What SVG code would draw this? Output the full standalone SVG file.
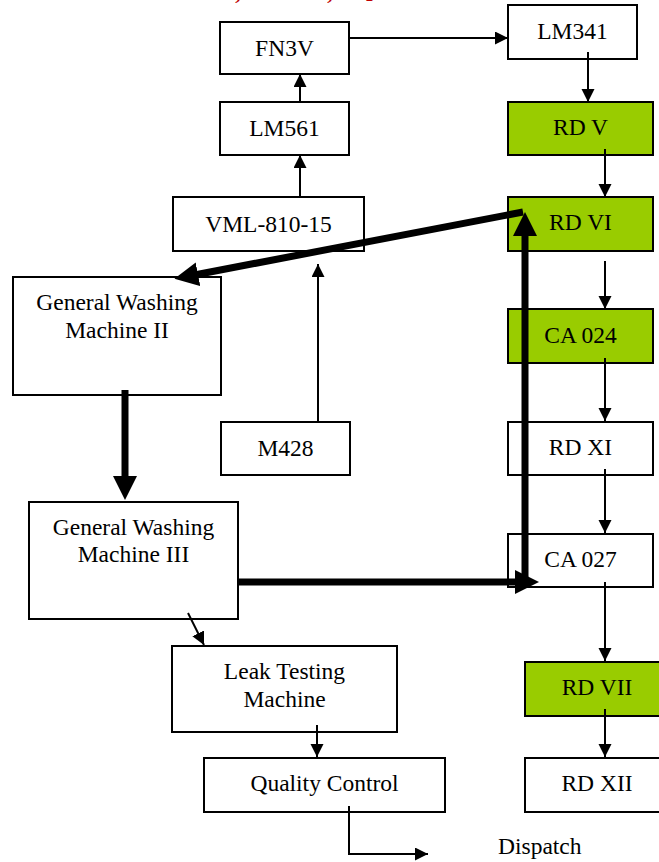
<svg xmlns="http://www.w3.org/2000/svg" width="659" height="862" viewBox="0 0 659 862">
<defs>
<style>
.box{fill:#fff;stroke:#000;stroke-width:2}
.green{fill:#99cc00;stroke:#000;stroke-width:2}
text{font-family:"Liberation Serif","Times New Roman",serif;font-size:23.5px;fill:#000}
.c{text-anchor:middle}
.thin{stroke:#000;stroke-width:2;fill:none;marker-end:url(#ah)}
.thick{stroke:#000;stroke-width:7;fill:none;marker-end:url(#ahb)}
.red{fill:#c00000;font-weight:bold;font-size:24px}
</style>
<marker id="ah" markerUnits="userSpaceOnUse" markerWidth="14" markerHeight="14" refX="13" refY="6.5" orient="auto"><path d="M0,0 L13,6.5 L0,13 z" fill="#000"/></marker>
<marker id="ahb" markerUnits="userSpaceOnUse" markerWidth="26" markerHeight="26" refX="1" refY="12" orient="auto"><path d="M0,0 L24,12 L0,24 z" fill="#000"/></marker>
</defs>
<rect width="659" height="862" fill="#fff"/>
<g id="title-fragments">
<text class="red" x="236" y="-1" font-style="italic">,</text>
<text class="red" x="328" y="-1" font-style="italic">,</text>
<text class="red" x="366" y="-4">p</text>
</g>
<g id="FN3V"><rect class="box" x="220" y="22" width="129" height="52"/><text class="c" x="284.5" y="56">FN3V</text></g>
<g id="LM561"><rect class="box" x="220" y="102" width="129" height="53"/><text class="c" x="284.5" y="136">LM561</text></g>
<g id="VML-810-15"><rect class="box" x="173" y="197" width="191" height="54"/><text class="c" x="268.5" y="232">VML-810-15</text></g>
<g id="M428"><rect class="box" x="221" y="422" width="129" height="53"/><text class="c" x="285.5" y="456">M428</text></g>
<g id="LM341"><rect class="box" x="508" y="5" width="129" height="54"/><text class="c" x="572.5" y="39">LM341</text></g>
<g id="RDV"><rect class="green" x="508" y="102" width="145" height="53"/><text class="c" x="580.5" y="135">RD V</text></g>
<g id="RDVI"><rect class="green" x="508" y="197" width="145" height="54"/><text class="c" x="580.5" y="230">RD VI</text></g>
<g id="CA024"><rect class="green" x="508" y="309" width="145" height="54"/><text class="c" x="580.5" y="343">CA 024</text></g>
<g id="RDXI"><rect class="box" x="508" y="422" width="145" height="53"/><text class="c" x="580.5" y="455">RD XI</text></g>
<g id="CA027"><rect class="box" x="508" y="534" width="145" height="53"/><text class="c" x="580.5" y="567">CA 027</text></g>
<g id="RDVII"><rect class="green" x="525" y="662" width="145" height="54"/><text class="c" x="597" y="695">RD VII</text></g>
<g id="RDXII"><rect class="box" x="525" y="758" width="145" height="54"/><text class="c" x="597" y="791">RD XII</text></g>
<g id="GWM2"><rect class="box" x="13" y="277" width="208" height="118"/><text class="c" x="117" y="310">General Washing</text><text class="c" x="117" y="338">Machine II</text></g>
<g id="GWM3"><rect class="box" x="29" y="502" width="209" height="117"/><text class="c" x="133.5" y="535">General Washing</text><text class="c" x="133.5" y="562">Machine III</text></g>
<g id="Leak"><rect class="box" x="172" y="646" width="225" height="86"/><text class="c" x="284.5" y="679">Leak Testing</text><text class="c" x="284.5" y="707">Machine</text></g>
<g id="QC"><rect class="box" x="204" y="758" width="241" height="54"/><text class="c" x="324.5" y="791">Quality Control</text></g>
<g id="Dispatch"><text x="498" y="854">Dispatch</text></g>
<g id="connectors">
<line class="thin" x1="349" y1="38" x2="508" y2="38"/>
<line class="thin" x1="300" y1="102" x2="300" y2="74"/>
<line class="thin" x1="300" y1="197" x2="300" y2="155"/>
<line class="thin" x1="318" y1="422" x2="318" y2="264"/>
<line class="thin" x1="588" y1="52" x2="588" y2="102"/>
<line class="thin" x1="605" y1="149" x2="605" y2="197"/>
<line class="thin" x1="605" y1="261" x2="605" y2="309"/>
<line class="thin" x1="605" y1="358" x2="605" y2="421"/>
<line class="thin" x1="605" y1="469" x2="605" y2="533"/>
<line class="thin" x1="605" y1="582" x2="605" y2="661"/>
<line class="thin" x1="605" y1="709" x2="605" y2="757"/>
<line class="thin" x1="188" y1="613" x2="204" y2="645"/>
<line class="thin" x1="317" y1="725" x2="317" y2="757"/>
<polyline class="thin" points="349,806 349,854 428,854"/>
<line class="thick" x1="523" y1="212" x2="197" y2="274.5"/>
<line class="thick" x1="525" y1="587" x2="525" y2="235"/>
<line class="thick" x1="238" y1="582" x2="516" y2="582"/>
<line class="thick" x1="125" y1="390" x2="125" y2="477"/>
</g>
</svg>
